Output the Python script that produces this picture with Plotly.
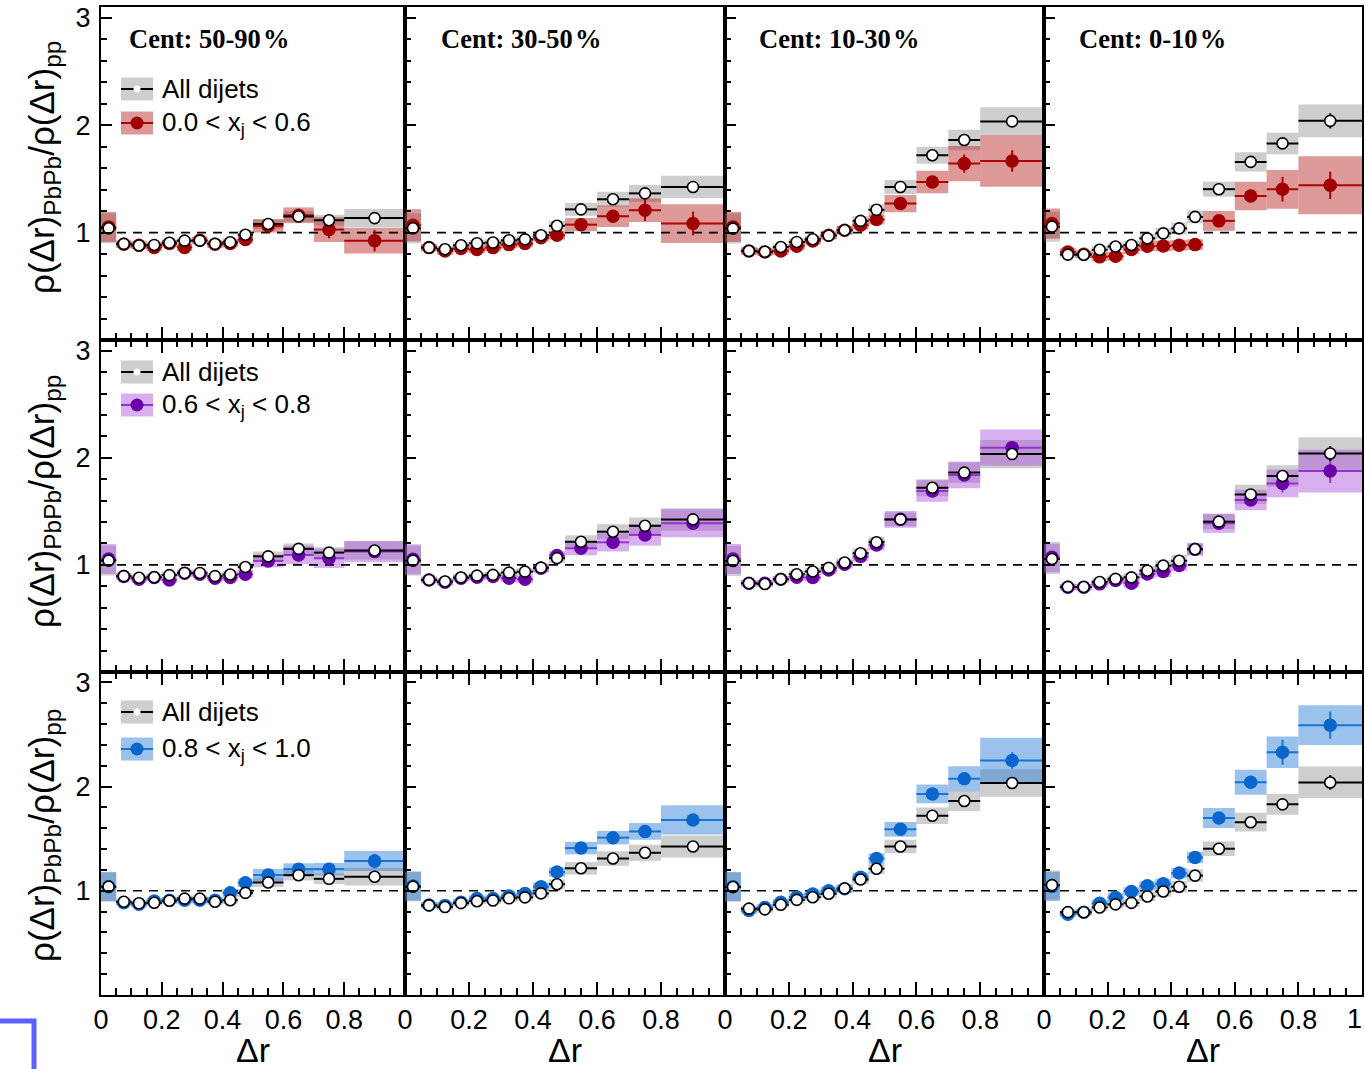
import plotly.graph_objects as go

W, H = 1365, 1069

# ---------------- data ----------------
dr_lo = [0.00, 0.05, 0.10, 0.15, 0.20, 0.25, 0.30, 0.35, 0.40, 0.45, 0.50, 0.60, 0.70, 0.80]
dr_hi = [0.05, 0.10, 0.15, 0.20, 0.25, 0.30, 0.35, 0.40, 0.45, 0.50, 0.60, 0.70, 0.80, 1.00]

cent_labels = ["Cent: 50-90\u200a%", "Cent: 30-50\u200a%", "Cent: 10-30\u200a%", "Cent: 0-10\u200a%"]
xj_labels = ["0.0 < x<sub>j</sub> < 0.6", "0.6 < x<sub>j</sub> < 0.8", "0.8 < x<sub>j</sub> < 1.0"]
all_label = "All dijets"
x_tick_vals = [0.0, 0.2, 0.4, 0.6, 0.8, 1.0]
x_tick_text = ["0", "0.2", "0.4", "0.6", "0.8", "1"]
y_tick_vals = [1, 2, 3]
y_tick_text = ["1", "2", "3"]
ref_level = 1.0

# All dijets, per centrality (50-90, 30-50, 10-30, 0-10)
all_5090 = [1.040, 0.895, 0.880, 0.885, 0.905, 0.925, 0.925, 0.895, 0.910, 0.980, 1.080, 1.150, 1.115, 1.135]
all_3050 = [1.040, 0.860, 0.845, 0.882, 0.900, 0.907, 0.928, 0.937, 0.975, 1.063, 1.216, 1.310, 1.365, 1.425]
all_1030 = [1.037, 0.829, 0.822, 0.866, 0.913, 0.938, 0.972, 1.022, 1.109, 1.212, 1.425, 1.720, 1.862, 2.035]
all_010 = [1.055, 0.795, 0.794, 0.840, 0.870, 0.884, 0.946, 0.993, 1.039, 1.146, 1.404, 1.658, 1.830, 2.040]

sys_all_5090 = [0.14, 0.03, 0.03, 0.03, 0.03, 0.03, 0.03, 0.03, 0.035, 0.04, 0.045, 0.05, 0.05, 0.085]
sys_all_3050 = [0.14, 0.03, 0.03, 0.03, 0.03, 0.03, 0.035, 0.035, 0.04, 0.045, 0.06, 0.07, 0.078, 0.105]
sys_all_1030 = [0.14, 0.03, 0.03, 0.03, 0.035, 0.035, 0.04, 0.04, 0.045, 0.05, 0.065, 0.08, 0.096, 0.132]
sys_all_010 = [0.14, 0.03, 0.03, 0.035, 0.035, 0.04, 0.045, 0.05, 0.055, 0.06, 0.07, 0.09, 0.10, 0.152]

stat_all_5090 = [0.01, 0.01, 0.01, 0.01, 0.01, 0.01, 0.01, 0.01, 0.01, 0.01, 0.01, 0.015, 0.02, 0.025]
stat_all_3050 = [0.01, 0.01, 0.01, 0.01, 0.01, 0.01, 0.01, 0.01, 0.01, 0.01, 0.015, 0.02, 0.025, 0.03]
stat_all_1030 = [0.01, 0.01, 0.01, 0.01, 0.01, 0.01, 0.01, 0.01, 0.01, 0.015, 0.02, 0.03, 0.04, 0.05]
stat_all_010 = [0.01, 0.01, 0.01, 0.01, 0.01, 0.01, 0.01, 0.01, 0.015, 0.015, 0.025, 0.035, 0.05, 0.07]

# 0.0 < xj < 0.6
lo_5090 = [1.053, 0.891, 0.882, 0.862, 0.898, 0.862, 0.929, 0.891, 0.898, 0.935, 1.062, 1.161, 1.028, 0.925]
lo_3050 = [1.068, 0.860, 0.829, 0.851, 0.842, 0.860, 0.888, 0.898, 0.953, 0.975, 1.074, 1.152, 1.208, 1.084]
lo_1030 = [1.053, 0.829, 0.820, 0.829, 0.873, 0.922, 0.975, 1.022, 1.068, 1.121, 1.270, 1.471, 1.642, 1.667]
lo_010 = [1.084, 0.820, 0.798, 0.774, 0.780, 0.842, 0.873, 0.876, 0.882, 0.888, 1.109, 1.341, 1.403, 1.440]
sys_lo_5090 = [0.14, 0.035, 0.035, 0.035, 0.035, 0.035, 0.035, 0.035, 0.035, 0.035, 0.062, 0.073, 0.116, 0.12]
sys_lo_3050 = [0.15, 0.035, 0.035, 0.035, 0.035, 0.035, 0.035, 0.035, 0.035, 0.04, 0.062, 0.10, 0.11, 0.18]
sys_lo_1030 = [0.14, 0.035, 0.035, 0.035, 0.035, 0.035, 0.035, 0.04, 0.04, 0.045, 0.08, 0.105, 0.163, 0.24]
sys_lo_010 = [0.14, 0.035, 0.035, 0.04, 0.04, 0.04, 0.045, 0.05, 0.05, 0.05, 0.093, 0.133, 0.18, 0.27]
stat_lo_5090 = [0.015, 0.01, 0.01, 0.01, 0.01, 0.01, 0.01, 0.015, 0.015, 0.02, 0.03, 0.04, 0.08, 0.10]
stat_lo_3050 = [0.015, 0.01, 0.01, 0.01, 0.01, 0.01, 0.01, 0.015, 0.015, 0.02, 0.03, 0.04, 0.10, 0.11]
stat_lo_1030 = [0.015, 0.01, 0.01, 0.01, 0.01, 0.01, 0.01, 0.015, 0.015, 0.02, 0.03, 0.04, 0.085, 0.10]
stat_lo_010 = [0.015, 0.01, 0.01, 0.01, 0.01, 0.01, 0.015, 0.015, 0.02, 0.02, 0.04, 0.06, 0.115, 0.127]

# 0.6 < xj < 0.8
mid_5090 = [1.056, 0.891, 0.866, 0.882, 0.860, 0.922, 0.913, 0.876, 0.882, 0.913, 1.037, 1.093, 1.062, 1.124]
mid_3050 = [1.053, 0.860, 0.838, 0.876, 0.885, 0.891, 0.876, 0.866, 0.969, 1.087, 1.155, 1.211, 1.280, 1.389]
mid_1030 = [1.056, 0.829, 0.829, 0.866, 0.885, 0.882, 0.953, 1.006, 1.078, 1.187, 1.426, 1.690, 1.840, 2.095]
mid_010 = [1.072, 0.792, 0.792, 0.823, 0.854, 0.829, 0.916, 0.938, 0.994, 1.146, 1.389, 1.606, 1.761, 1.876]
sys_mid_5090 = [0.14, 0.03, 0.03, 0.03, 0.03, 0.03, 0.03, 0.03, 0.035, 0.035, 0.06, 0.085, 0.09, 0.10]
sys_mid_3050 = [0.14, 0.03, 0.03, 0.03, 0.03, 0.03, 0.035, 0.035, 0.04, 0.04, 0.065, 0.085, 0.10, 0.13]
sys_mid_1030 = [0.14, 0.03, 0.03, 0.03, 0.035, 0.035, 0.04, 0.04, 0.045, 0.05, 0.078, 0.10, 0.125, 0.17]
sys_mid_010 = [0.14, 0.03, 0.03, 0.035, 0.035, 0.04, 0.045, 0.05, 0.05, 0.055, 0.09, 0.095, 0.13, 0.20]
stat_mid_5090 = [0.01, 0.01, 0.01, 0.01, 0.01, 0.01, 0.01, 0.01, 0.01, 0.015, 0.02, 0.025, 0.03, 0.04]
stat_mid_3050 = [0.01, 0.01, 0.01, 0.01, 0.01, 0.01, 0.01, 0.01, 0.01, 0.015, 0.02, 0.03, 0.04, 0.05]
stat_mid_1030 = [0.01, 0.01, 0.01, 0.01, 0.01, 0.01, 0.01, 0.01, 0.015, 0.015, 0.02, 0.03, 0.04, 0.06]
stat_mid_010 = [0.01, 0.01, 0.01, 0.01, 0.01, 0.01, 0.01, 0.015, 0.015, 0.02, 0.03, 0.05, 0.085, 0.11]

# 0.8 < xj < 1.0
hi_5090 = [1.038, 0.885, 0.872, 0.901, 0.910, 0.910, 0.910, 0.910, 0.981, 1.077, 1.151, 1.208, 1.208, 1.285]
hi_3050 = [1.046, 0.863, 0.860, 0.890, 0.925, 0.925, 0.950, 0.975, 1.040, 1.180, 1.410, 1.510, 1.570, 1.680]
hi_1030 = [1.040, 0.810, 0.840, 0.890, 0.940, 0.970, 1.000, 1.020, 1.130, 1.310, 1.590, 1.930, 2.075, 2.250]
hi_010 = [1.042, 0.776, 0.795, 0.881, 0.936, 0.994, 1.048, 1.067, 1.170, 1.320, 1.699, 2.042, 2.330, 2.590]
sys_hi_5090 = [0.14, 0.03, 0.03, 0.03, 0.03, 0.03, 0.03, 0.03, 0.035, 0.04, 0.06, 0.056, 0.06, 0.096]
sys_hi_3050 = [0.14, 0.03, 0.03, 0.03, 0.03, 0.03, 0.035, 0.035, 0.04, 0.045, 0.06, 0.065, 0.08, 0.14]
sys_hi_1030 = [0.14, 0.03, 0.03, 0.03, 0.035, 0.035, 0.04, 0.04, 0.045, 0.05, 0.07, 0.09, 0.12, 0.22]
sys_hi_010 = [0.14, 0.03, 0.03, 0.035, 0.04, 0.04, 0.045, 0.05, 0.05, 0.055, 0.096, 0.12, 0.152, 0.19]
stat_hi_5090 = [0.01, 0.01, 0.01, 0.01, 0.01, 0.01, 0.01, 0.01, 0.01, 0.015, 0.02, 0.03, 0.04, 0.07]
stat_hi_3050 = [0.01, 0.01, 0.01, 0.01, 0.01, 0.01, 0.01, 0.01, 0.01, 0.015, 0.02, 0.03, 0.04, 0.06]
stat_hi_1030 = [0.01, 0.01, 0.01, 0.01, 0.01, 0.01, 0.01, 0.01, 0.015, 0.015, 0.025, 0.04, 0.05, 0.08]
stat_hi_010 = [0.01, 0.01, 0.01, 0.01, 0.01, 0.01, 0.015, 0.015, 0.02, 0.02, 0.03, 0.06, 0.12, 0.13]

all_vals = [all_5090, all_3050, all_1030, all_010]
all_sys = [sys_all_5090, sys_all_3050, sys_all_1030, sys_all_010]
all_stat = [stat_all_5090, stat_all_3050, stat_all_1030, stat_all_010]
sub_vals = [[lo_5090, lo_3050, lo_1030, lo_010],
            [mid_5090, mid_3050, mid_1030, mid_010],
            [hi_5090, hi_3050, hi_1030, hi_010]]
sub_sys = [[sys_lo_5090, sys_lo_3050, sys_lo_1030, sys_lo_010],
           [sys_mid_5090, sys_mid_3050, sys_mid_1030, sys_mid_010],
           [sys_hi_5090, sys_hi_3050, sys_hi_1030, sys_hi_010]]
sub_stat = [[stat_lo_5090, stat_lo_3050, stat_lo_1030, stat_lo_010],
            [stat_mid_5090, stat_mid_3050, stat_mid_1030, stat_mid_010],
            [stat_hi_5090, stat_hi_3050, stat_hi_1030, stat_hi_010]]

# ---------------- style ----------------
FONT = "Liberation Sans, Arial, sans-serif"
SERIF = "Liberation Serif, Times New Roman, serif"
gray_band = "rgba(120,120,120,0.36)"
sub_marker = ["#a00000", "#6a00a8", "#0a66cc"]
sub_line = ["#b00000", "#9a30d0", "#1a72d8"]
sub_band = ["rgba(180,30,30,0.46)", "rgba(170,80,220,0.45)", "rgba(30,120,210,0.45)"]

col_px = [(101, 405), (405, 725), (725, 1044), (1044, 1362)]
row_px = [(7, 340), (340, 672), (672, 995)]
legend_rows = [(89, 123), (372, 405), (712, 749)]
ytitle_center = [168, 502, 836]


def px(p):
    return p / W


def py(p):
    return 1 - p / H


centers = [(a + b) / 2 for a, b in zip(dr_lo, dr_hi)]
halfw = [(b - a) / 2 for a, b in zip(dr_lo, dr_hi)]
widths = [(b - a) for a, b in zip(dr_lo, dr_hi)]

fig = go.Figure()
layout_axes = {}
shapes = []
annotations = []

for r in range(3):
    for c in range(4):
        idx = r * 4 + c + 1
        xa = "x" if idx == 1 else f"x{idx}"
        ya = "y" if idx == 1 else f"y{idx}"
        av, asys, ast = all_vals[c], all_sys[c], all_stat[c]
        sv, ssys, sst = sub_vals[r][c], sub_sys[r][c], sub_stat[r][c]
        # systematic bands
        fig.add_trace(go.Bar(x=centers, y=[2 * s for s in asys], base=[v - s for v, s in zip(av, asys)],
                             width=widths, marker=dict(color=gray_band, line=dict(width=0)),
                             xaxis=xa, yaxis=ya, showlegend=False, hoverinfo="skip"))
        fig.add_trace(go.Bar(x=centers, y=[2 * s for s in ssys], base=[v - s for v, s in zip(sv, ssys)],
                             width=widths, marker=dict(color=sub_band[r], line=dict(width=0)),
                             xaxis=xa, yaxis=ya, showlegend=False, hoverinfo="skip"))
        # reference line
        fig.add_trace(go.Scatter(x=[0, 1], y=[ref_level, ref_level], mode="lines",
                                 line=dict(color="black", width=1.6, dash="9px,7px"),
                                 xaxis=xa, yaxis=ya, showlegend=False, hoverinfo="skip"))
        # subset points
        fig.add_trace(go.Scatter(x=centers, y=sv, mode="markers",
                                 marker=dict(color=sub_marker[r], size=13.5, line=dict(width=0)),
                                 error_x=dict(type="data", array=halfw, color=sub_line[r], thickness=2, width=0),
                                 error_y=dict(type="data", array=sst, color=sub_line[r], thickness=2, width=0),
                                 xaxis=xa, yaxis=ya, showlegend=False))
        # all dijets points
        fig.add_trace(go.Scatter(x=centers, y=av, mode="markers",
                                 marker=dict(color="white", size=11, line=dict(color="black", width=1.6)),
                                 error_x=dict(type="data", array=halfw, color="black", thickness=2, width=0),
                                 error_y=dict(type="data", array=ast, color="black", thickness=2, width=0),
                                 xaxis=xa, yaxis=ya, showlegend=False))

        x0, x1 = col_px[c]
        y0, y1 = row_px[r]
        xkey = "xaxis" if idx == 1 else f"xaxis{idx}"
        ykey = "yaxis" if idx == 1 else f"yaxis{idx}"
        layout_axes[xkey] = dict(
            domain=[px(x0), px(x1)], range=[0, 1], anchor=ya,
            showline=True, linecolor="black", linewidth=2, mirror=("ticks" if r > 0 else True),
            ticks="inside", ticklen=13, tickwidth=1.5, tickcolor="black",
            tickmode="array", tickvals=x_tick_vals[:-1], ticktext=x_tick_text[:-1],
            showticklabels=(r == 2), tickfont=dict(family=FONT, size=27, color="black"),
            ticklabelstandoff=0, ticklabeloverflow="allow",
            minor=dict(ticks="inside", dtick=0.05, tick0=0, ticklen=7, tickwidth=1.5, tickcolor="black"),
            showgrid=False, zeroline=False, fixedrange=True, automargin=False)
        layout_axes[ykey] = dict(
            domain=[py(y1), py(y0)], range=[0, 3.1], anchor=xa,
            showline=True, linecolor="black", linewidth=2, mirror=True,
            ticks="inside", ticklen=11, tickwidth=1.5, tickcolor="black",
            tickmode="array", tickvals=y_tick_vals, ticktext=y_tick_text,
            showticklabels=(c == 0), tickfont=dict(family=FONT, size=27, color="black"),
            ticklabelstandoff=3, ticklabeloverflow="allow",
            minor=dict(ticks="inside", dtick=0.2, tick0=0, ticklen=6, tickwidth=1.5, tickcolor="black"),
            showgrid=False, zeroline=False, fixedrange=True, automargin=False)

# last x tick label of the right-most bottom panel (sits at the canvas edge)
annotations.append(dict(text=x_tick_text[-1], x=x_tick_vals[-1], xref="x12", y=py(1019), yref="paper",
                        xanchor="right", yanchor="middle", xshift=2, showarrow=False,
                        font=dict(family=FONT, size=27, color="black")))

# centrality labels and x titles
cent_x = [127, 439, 757, 1077]
for c in range(4):
    annotations.append(dict(text=f"<b>{cent_labels[c]}</b>", x=px(cent_x[c]), y=py(39), xref="paper", yref="paper",
                            xanchor="left", yanchor="middle", showarrow=False,
                            font=dict(family=SERIF, size=26.5, color="black")))
    annotations.append(dict(text="\u0394r", x=px((col_px[c][0] + col_px[c][1]) / 2), y=py(1050),
                            xref="paper", yref="paper", xanchor="center", yanchor="middle", showarrow=False,
                            font=dict(family=FONT, size=34, color="black")))

# y titles
for r in range(3):
    annotations.append(dict(text="\u03c1(\u0394r)<sub>PbPb</sub>/\u03c1(\u0394r)<sub>pp</sub>",
                            x=px(44), y=py(ytitle_center[r]), xref="paper", yref="paper",
                            xanchor="center", yanchor="middle", textangle=-90, showarrow=False,
                            font=dict(family=FONT, size=35, color="black")))

# legends (manual)
for r in range(3):
    ya_, yb_ = legend_rows[r]
    bx0, bx1 = 121, 153
    bxc = (bx0 + bx1) / 2
    shapes.append(dict(type="rect", xref="paper", yref="paper", x0=px(bx0), x1=px(bx1), y0=py(ya_ + 11.5), y1=py(ya_ - 11.5),
                       fillcolor=gray_band, line=dict(width=0)))
    shapes.append(dict(type="line", xref="paper", yref="paper", x0=px(bx0), x1=px(bx1), y0=py(ya_), y1=py(ya_),
                       line=dict(color="black", width=2)))
    shapes.append(dict(type="circle", xref="paper", yref="paper", x0=px(bxc - 3.5), x1=px(bxc + 3.5),
                       y0=py(ya_ + 3.5), y1=py(ya_ - 3.5), fillcolor="white", line=dict(width=0)))
    annotations.append(dict(text=all_label, x=px(160), y=py(ya_), xref="paper", yref="paper",
                            xanchor="left", yanchor="middle", showarrow=False,
                            font=dict(family=FONT, size=26, color="black")))
    shapes.append(dict(type="rect", xref="paper", yref="paper", x0=px(bx0), x1=px(bx1), y0=py(yb_ + 11.5), y1=py(yb_ - 11.5),
                       fillcolor=sub_band[r], line=dict(width=0)))
    shapes.append(dict(type="line", xref="paper", yref="paper", x0=px(bx0), x1=px(bx1), y0=py(yb_), y1=py(yb_),
                       line=dict(color=sub_line[r], width=2)))
    shapes.append(dict(type="circle", xref="paper", yref="paper", x0=px(bxc - 6.5), x1=px(bxc + 6.5),
                       y0=py(yb_ + 6.5), y1=py(yb_ - 6.5), fillcolor=sub_marker[r], line=dict(width=0)))
    annotations.append(dict(text=xj_labels[r], x=px(160), y=py(yb_), xref="paper", yref="paper",
                            xanchor="left", yanchor="middle", showarrow=False,
                            font=dict(family=FONT, size=26, color="black")))

# blue bracket artefact at bottom-left
shapes.append(dict(type="path", xref="paper", yref="paper",
                   path=f"M {px(0)} {py(1021)} L {px(34)} {py(1021)} L {px(34)} {py(1069)}",
                   line=dict(color="rgb(95,95,255)", width=5)))

fig.update_layout(width=W, height=H, margin=dict(l=0, r=0, t=0, b=0, pad=0), autosize=False,
                  paper_bgcolor="white", plot_bgcolor="white", barmode="overlay",
                  font=dict(family=FONT, color="black"),
                  shapes=shapes, annotations=annotations, showlegend=False, **layout_axes)

fig.write_html("out.html",
               post_script="document.body.style.margin='0px';document.body.style.padding='0px';"
                           "document.body.style.overflow='hidden';")
